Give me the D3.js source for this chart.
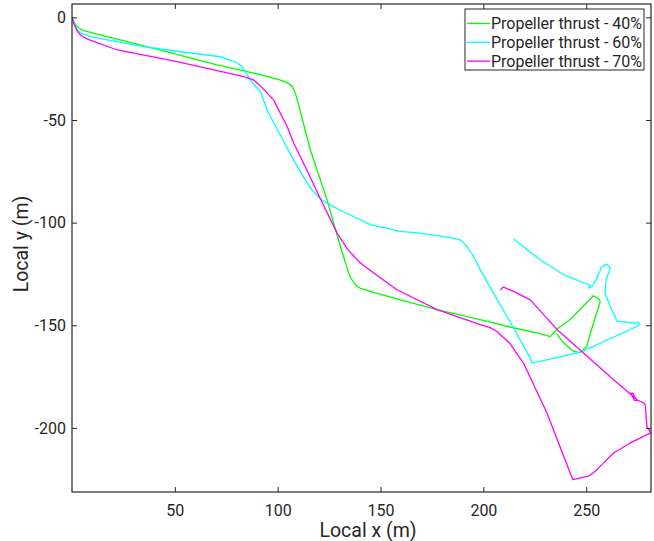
<!DOCTYPE html>
<html>
<head>
<meta charset="utf-8">
<script src="https://cdn.jsdelivr.net/npm/d3@7"></script>
<style>
  body { margin: 0; background: #fff; }
  text { font-family: Roboto, sans-serif; fill: #262626; }
</style>
</head>
<body>
<svg id="chart" width="654" height="541"></svg>
<script>
// trajectories, [local x, local y] in metres
const thrust40 = [[0,0],[1,-2.5],[2.5,-4.5],[4.5,-6],[6.6,-6.7],[20,-10.1],[43,-16],[70,-23],[90,-27.5],[101,-30.5],[104.6,-31.8],[107,-33.5],[108.6,-37],[110,-42],[115.9,-64.6],[124,-88.9],[130.5,-111.6],[134,-123],[135.5,-127],[138,-130.5],[140.2,-132],[145,-133.5],[159.6,-137.6],[177.5,-142.4],[198.5,-147.2],[214.5,-151.2],[227.6,-154.1],[232.5,-155.5],[235.8,-151.8],[242.2,-147.2],[253.5,-135.6],[256,-137],[256.8,-138.4],[252,-154],[250.3,-160.3],[247,-163.2],[243.8,-162.7],[239,-158.6],[235.4,-153.8]];
const thrust60 = [[0,0],[1,-3],[2.5,-6],[4.1,-7.7],[10,-9.6],[34.8,-14.3],[55,-17],[72.2,-19.2],[77,-20.8],[80,-22],[82.7,-24],[84.5,-27],[86.7,-30.5],[91.6,-36.2],[94.8,-45],[100,-55],[107.7,-69.4],[112,-77],[116.7,-84],[120.8,-88.5],[124,-90.5],[132,-94.8],[140.2,-98.6],[145,-101],[159.6,-104.3],[169.3,-105.1],[185.5,-107.5],[189,-108.5],[192,-111.6],[195,-116],[198.5,-123],[214.7,-151.3],[222.8,-166],[223.6,-168.4],[247,-163.2],[274.6,-150.6],[276,-149.5],[275.3,-148.5],[274,-149],[265,-148],[261.7,-140.8],[259.2,-134.3],[259.7,-127.8],[261.7,-122.1],[260,-120.2],[257.6,-121.4],[255.2,-127],[252.8,-131.1],[251.1,-131.9],[252,-130.5],[239,-125.4],[227.6,-118.1],[214.7,-108]];
const thrust70 = [[0,0],[1,-3.5],[2.5,-6.5],[4,-8.5],[6.6,-10.2],[22,-15.9],[51.1,-21.6],[70,-25.8],[83.5,-28.9],[88.3,-30.5],[91.6,-33.4],[96.5,-38.6],[98,-40.2],[104.6,-53.2],[107.8,-61.3],[114,-74],[120.8,-88.5],[128.9,-105.1],[134,-113],[140.2,-119.7],[143.4,-122.1],[150,-127],[158,-132.7],[177.5,-142.4],[198.5,-149.7],[203,-151],[206.6,-153],[213.1,-159],[217.1,-165],[219.5,-168.4],[230.9,-192.7],[243.5,-225.2],[247,-224.3],[251.1,-223.5],[254.4,-221.1],[258,-217.5],[263.3,-212.2],[271.4,-207.3],[281.4,-202.4],[279.5,-199.2],[278.7,-188.7],[277.9,-187.8],[275,-186.5],[273.5,-186.6],[272.5,-184.5],[271.8,-183],[272.8,-183.2],[273.6,-185],[274.6,-186.2],[263.3,-176.5],[235.8,-152],[222.8,-137.6],[214.7,-133.5],[209.8,-131.4],[208.2,-132.7]];

const seriesNames = ['Propeller thrust - 40%', 'Propeller thrust - 60%', 'Propeller thrust - 70%'];
const seriesColors = ['#00ff00', '#00ffff', '#ff00ff'];
const xTicks = [50, 100, 150, 200, 250];
const yTicks = [0, -50, -100, -150, -200];

const svg = d3.select('#chart');
const margin = { top: 4, right: 3, bottom: 49, left: 72 };
const width = 654 - margin.left - margin.right;
const height = 541 - margin.top - margin.bottom;

const x = d3.scaleLinear().domain([0, 281.5]).range([0, width]);
const y = d3.scaleLinear().domain([-231.2, 6.5]).range([height, 0]);

const g = svg.append('g').attr('transform', `translate(${margin.left},${margin.top})`);

g.append('clipPath').attr('id', 'clip')
  .append('rect').attr('width', width).attr('height', height);

const line = d3.line().x((d) => x(d[0])).y((d) => y(d[1]));

const traces = [thrust40, thrust60, thrust70];
g.append('g').attr('clip-path', 'url(#clip)')
  .selectAll('path')
  .data(traces)
  .join('path')
  .attr('d', line)
  .attr('fill', 'none')
  .attr('stroke', (d, i) => seriesColors[i])
  .attr('stroke-width', 1.3)
  .attr('stroke-linejoin', 'round');

// axes, ticks pointing inward on all four sides
const styleAxis = (sel) => {
  sel.select('.domain').remove();
  sel.selectAll('line').attr('stroke', '#262626');
  sel.selectAll('text').attr('font-size', 16).attr('fill', '#262626');
};
const plain = (d) => String(d); // hyphen minus like the original

g.append('g').attr('transform', `translate(0,${height})`)
  .call(d3.axisBottom(x).tickValues(xTicks).tickSizeInner(-5).tickSizeOuter(0).tickPadding(13).tickFormat(plain))
  .call(styleAxis);
g.append('g')
  .call(d3.axisTop(x).tickValues(xTicks).tickSizeInner(-5).tickSizeOuter(0).tickFormat(''))
  .call(styleAxis);
g.append('g')
  .call(d3.axisLeft(y).tickValues(yTicks).tickSizeInner(-5).tickSizeOuter(0).tickPadding(6).tickFormat(plain))
  .call(styleAxis);
g.append('g').attr('transform', `translate(${width},0)`)
  .call(d3.axisRight(y).tickValues(yTicks).tickSizeInner(-5).tickSizeOuter(0).tickFormat(''))
  .call(styleAxis);

g.append('rect')
  .attr('width', width).attr('height', height)
  .attr('fill', 'none').attr('stroke', '#262626').attr('stroke-width', 1.2);

g.selectAll('.tick text').style('font-family', 'Roboto, sans-serif');

svg.append('text')
  .attr('x', 368).attr('y', 537)
  .attr('text-anchor', 'middle').attr('font-size', 19.5)
  .text('Local x (m)');

svg.append('text')
  .attr('transform', 'translate(28,244) rotate(-90)')
  .attr('text-anchor', 'middle').attr('font-size', 19.5)
  .text('Local y (m)');

// legend
const legend = svg.append('g').attr('transform', 'translate(465,9)');
legend.append('rect')
  .attr('width', 179).attr('height', 61)
  .attr('fill', '#fff').attr('stroke', '#262626').attr('stroke-width', 1);

const rows = legend.selectAll('.row')
  .data(seriesNames)
  .join('g')
  .attr('class', 'row')
  .attr('transform', (d, i) => `translate(0,${14.5 + i * 18.8})`);

rows.append('line')
  .attr('x1', 2).attr('x2', 25)
  .attr('stroke', (d, i) => seriesColors[i]).attr('stroke-width', 1.3);

rows.append('text')
  .attr('x', 26).attr('dy', '0.36em')
  .attr('font-size', 16)
  .attr('textLength', 151)
  .text((d) => d);
</script>
</body>
</html>
